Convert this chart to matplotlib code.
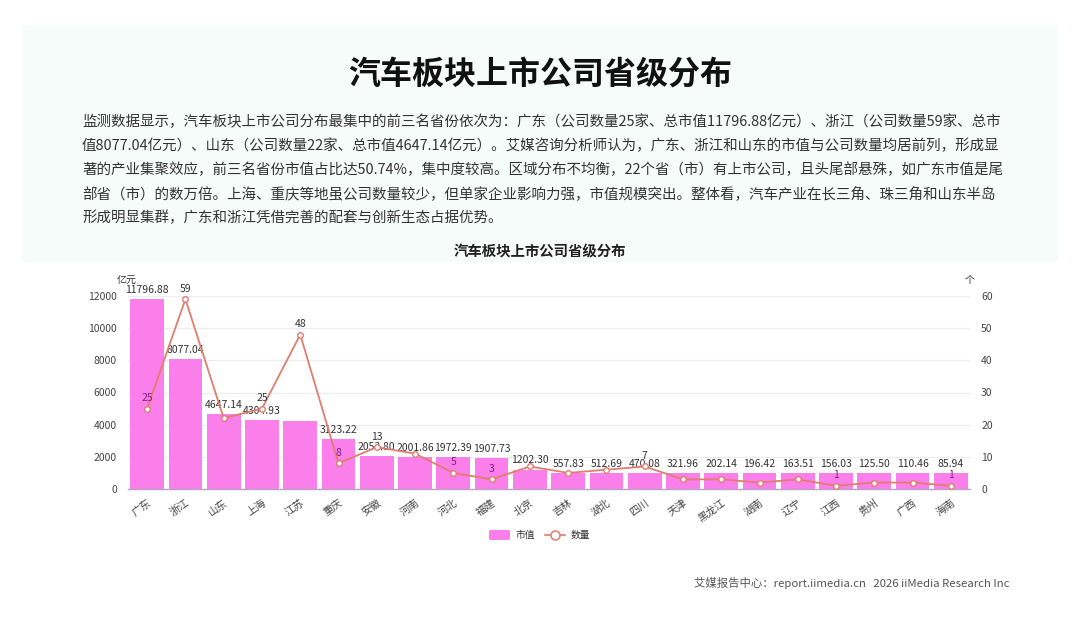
import matplotlib
matplotlib.use('Agg')
import matplotlib.pyplot as plt
from matplotlib.patches import Rectangle, FancyBboxPatch
from matplotlib.lines import Line2D
import numpy as np

plt.rcParams['font.family'] = ['Noto Sans CJK SC', 'DejaVu Sans']

# data
provinces = ['广东', '浙江', '山东', '上海', '江苏', '重庆', '安徽', '河南', '河北', '福建', '北京',
             '吉林', '湖北', '四川', '天津', '黑龙江', '湖南', '辽宁', '江西', '贵州', '广西', '海南']
market_cap = [11796.88, 8077.04, 4647.14, 4304.93, 4250.00, 3123.22, 2053.80, 2001.86, 1972.39,
              1907.73, 1202.30, 557.83, 512.69, 470.08, 321.96, 202.14, 196.42, 163.51, 156.03,
              125.50, 110.46, 85.94]
company_count = [25, 59, 22, 25, 48, 8, 13, 11, 5, 3, 7, 5, 6, 7, 3, 3, 2, 3, 1, 2, 2, 1]
# which labels the original chart keeps visible (others hidden by overlap)
show_cap_label = [True] * 22
show_cap_label[4] = False
show_count_label = [True, True, False, True, True, True, True, False, True, True, False,
                    False, False, True, False, False, False, False, True, False, False, True]

title = '汽车板块上市公司省级分布'
paragraph = [
    '监测数据显示，汽车板块上市公司分布最集中的前三名省份依次为：广东（公司数量25家、总市值11796.88亿元）、浙江（公司数量59家、总市',
    '值8077.04亿元）、山东（公司数量22家、总市值4647.14亿元）。艾媒咨询分析师认为，广东、浙江和山东的市值与公司数量均居前列，形成显',
    '著的产业集聚效应，前三名省份市值占比达50.74%，集中度较高。区域分布不均衡，22个省（市）有上市公司，且头尾部悬殊，如广东市值是尾',
    '部省（市）的数万倍。上海、重庆等地虽公司数量较少，但单家企业影响力强，市值规模突出。整体看，汽车产业在长三角、珠三角和山东半岛',
    '形成明显集群，广东和浙江凭借完善的配套与创新生态占据优势。',
]
footer = '艾媒报告中心：report.iimedia.cn   2026 iiMedia Research Inc'

W, H = 1080, 623
fig = plt.figure(figsize=(W / 100, H / 100), dpi=100)
fig.patch.set_facecolor('white')

# light mint header panel
fig.patches.append(Rectangle((22 / W, 1 - 262 / H), (1058 - 22) / W, (262 - 25) / H,
                             transform=fig.transFigure, facecolor='#f5fcf9', edgecolor='none', zorder=0))

fig.text(0.5, 1 - 75 / H, title, ha='center', va='center', fontsize=23, fontweight='bold', color='#111111')
for i, line in enumerate(paragraph):
    fig.text(82 / W, 1 - (122 + 24 * i) / H, line, ha='left', va='center', fontsize=10.45, color='#333333')
fig.text(0.5, 1 - 252 / H, title, ha='center', va='center', fontsize=10.4, fontweight='bold', color='#222222')

# chart area
left, right, top, bottom = 128, 970, 296, 489
ax = fig.add_axes([left / W, 1 - bottom / H, (right - left) / W, (bottom - top) / H])
ax2 = ax.twinx()

x = np.arange(len(provinces))
bar_color = '#fb7fea'
line_color = '#e07d6e'
min_bar = 1000  # small bars keep a minimum visible height
bar_h = np.maximum(market_cap, min_bar)

ax.bar(x, bar_h, width=0.88, color=bar_color, zorder=2)
ax.set_ylim(0, 12000)
ax.set_xlim(-0.5, len(provinces) - 0.5)
ax.set_yticks(np.arange(0, 12001, 2000))
ax2.set_ylim(0, 60)
ax2.set_yticks(np.arange(0, 61, 10))

for a in (ax, ax2):
    for s in a.spines.values():
        s.set_visible(False)
    a.tick_params(axis='y', length=0, labelsize=7.5, labelcolor='#444444', pad=8)
ax.spines['bottom'].set_visible(True)
ax.spines['bottom'].set_color('#b9a3c9')
ax.spines['bottom'].set_linewidth(1.0)
ax.grid(axis='y', color='#ececec', linewidth=0.8, zorder=0)
ax.set_axisbelow(True)

ax.set_xticks(x)
ax.set_xticklabels(provinces, rotation=35, ha='right', rotation_mode='anchor', fontsize=7.5, color='#444444')
ax.tick_params(axis='x', length=0, pad=6)

for xi, h, v, show in zip(x, bar_h, market_cap, show_cap_label):
    if show:
        ax.annotate(f'{v:.2f}', (xi, h), xytext=(0, 3), textcoords='offset points',
                    ha='center', va='bottom', fontsize=7.5, color='#333333', zorder=5)

ax2.plot(x, company_count, color=line_color, linewidth=1.3, marker='o', markersize=4,
         markerfacecolor='white', markeredgecolor=line_color, markeredgewidth=1.0, zorder=4)
ax.set_zorder(ax2.get_zorder() - 1)
ax.patch.set_visible(False)

for xi, c, h, show in zip(x, company_count, bar_h, show_count_label):
    if show:
        inside = c / 60 * 12000 + 600 < h
        ax2.annotate(str(c), (xi, c), xytext=(0, 4), textcoords='offset points',
                     ha='center', va='bottom', fontsize=7.5,
                     color='#7d1f86' if inside else '#333333', zorder=6)

fig.text(117 / W, 1 - 280 / H, '亿元', ha='left', va='center', fontsize=7.2, color='#333333')
fig.text(970 / W, 1 - 280 / H, '个', ha='center', va='center', fontsize=7.2, color='#333333')

# legend
ly = 1 - 535 / H
fig.patches.append(FancyBboxPatch((489 / W, ly - 5 / H), 21 / W, 10 / H,
                                  boxstyle='round,pad=0,rounding_size=0.002',
                                  transform=fig.transFigure, facecolor=bar_color, edgecolor='none'))
fig.text(515 / W, ly, '市值', ha='left', va='center', fontsize=7, color='#333333')
fig.lines.append(Line2D([545 / W, 565 / W], [ly, ly], transform=fig.transFigure,
                        color=line_color, linewidth=1.2))
fig.lines.append(Line2D([555 / W], [ly], transform=fig.transFigure, marker='o', markersize=6.5,
                        markerfacecolor='white', markeredgecolor=line_color, markeredgewidth=1.1))
fig.text(571 / W, ly, '数量', ha='left', va='center', fontsize=7, color='#333333')

fig.text(1010 / W, 1 - 583 / H, footer, ha='right', va='center', fontsize=8.2, color='#555555')

fig.savefig('out.png', dpi=100, facecolor='white')
